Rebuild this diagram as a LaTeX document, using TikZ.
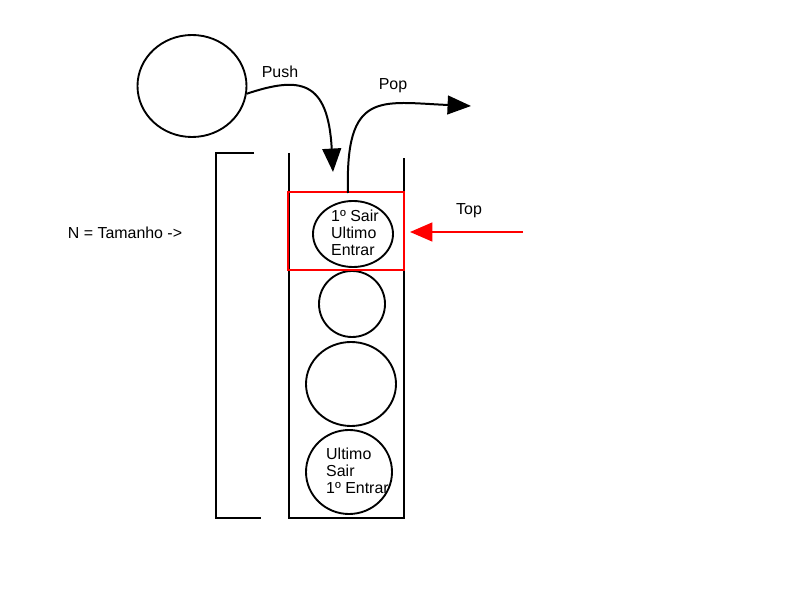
\documentclass[tikz,border=0pt]{standalone}
\usepackage{fontspec}
\setmainfont{Liberation Sans}
\usepackage{tikz}
\usetikzlibrary{arrows.meta, positioning, shapes.geometric}

\begin{document}
\begin{tikzpicture}[x=0.03cm, y=-0.03cm,
            e/.style={draw, ellipse, line width=1.6pt, inner sep=0pt},
            t/.style={font=\fontsize{13.6}{14.6}\selectfont, align=left, inner sep=0pt},
            w/.style={line width=1.7pt},
            a/.style={-{Triangle[length=20pt, width=16pt]}, line width=1.7pt}
          ]
          \useasboundingbox (0,0) rectangle (800,600);
          % elemento a empilhar
          \node[e, minimum width=3.27cm, minimum height=3.06cm] (ball) at (192,86) {};
          % pilha
          \draw[w] (289,153) -- (289,518) -- (404,518) -- (404,158);
          \draw[w] (254,153) -- (216,153) -- (216,518) -- (261,518);
          \node[e, minimum width=2.4cm, minimum height=1.98cm] (c1) at (353,234) {};
          \node[e, minimum width=1.98cm, minimum height=1.98cm] (c2) at (352,304) {};
          \node[e, minimum width=2.7cm, minimum height=2.52cm] (c3) at (351,384) {};
          \node[e, minimum width=2.58cm, minimum height=2.52cm] (c4) at (349,472) {};
          \node[t, anchor=west] (c1t) at (331,233) {1º Sair\\Ultimo\\Entrar};
          \node[t, anchor=west] (c4t) at (326,471) {Ultimo\\Sair\\1º Entrar};
          \node[draw=red, line width=1.7pt, minimum width=3.48cm, minimum height=2.34cm] (topbox) at (346,231) {};
          % rotulos
          \node[t] (push) at (280,72) {Push};
          \node[t] (pop) at (393,86) {Pop};
          \node[t] (top) at (469,211) {Top};
          \node[t] (size) at (125,233) {N = Tamanho ->};
          \coordinate (pushend) at (333,172);
          \coordinate (popstart) at (348,193);
          \coordinate (popend) at (471,106);
          \coordinate (topstart) at (523,232);
          \coordinate (topend) at (410,232);
          \draw[a] (ball.-8) .. controls (300,76) and (328,80) .. (pushend);
          \draw[a] (popstart) .. controls (345,90) and (380,102) .. (popend);
          \draw[a, red, -{Triangle[length=19pt, width=16pt]}] (topstart) -- (topend);
        \end{tikzpicture}
\end{document}
